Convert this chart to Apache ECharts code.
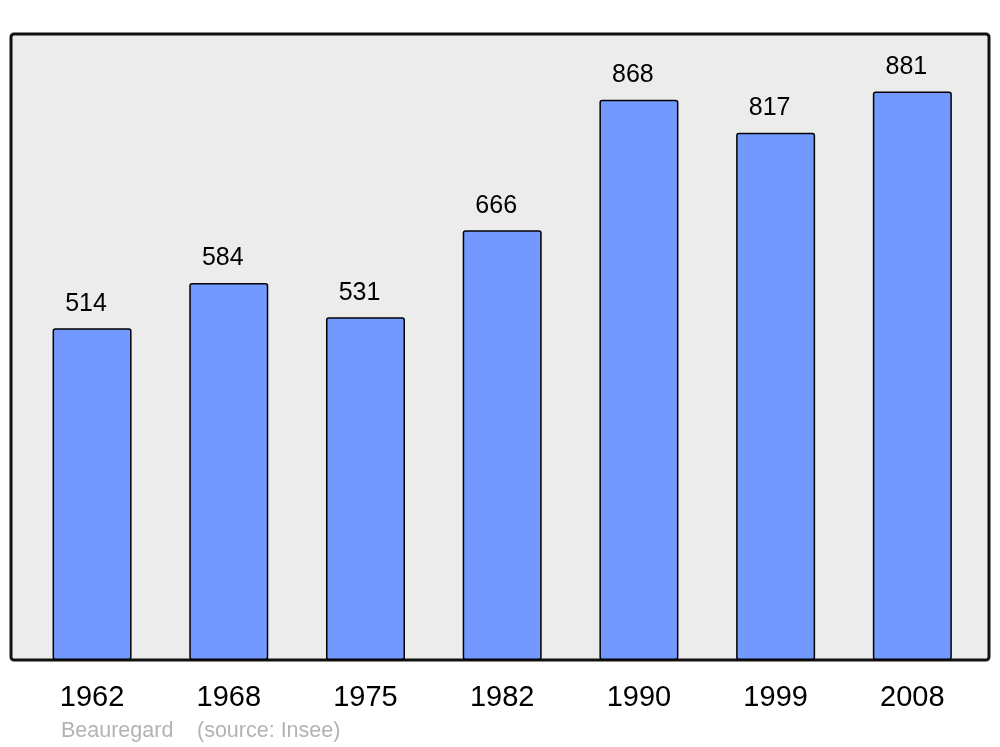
<!DOCTYPE html>
<html>
<head>
<meta charset="utf-8">
<script src="https://cdn.jsdelivr.net/npm/echarts@6/dist/echarts.min.js"></script>
<style>
html,body{margin:0;padding:0;background:#fff;}
#main{width:1000px;height:747px;}
</style>
</head>
<body>
<div id="main"></div>
<script>
var years = ['1962', '1968', '1975', '1982', '1990', '1999', '2008'];
var population = [514, 584, 531, 666, 868, 817, 881];
var placeName = 'Beauregard';
var sourceText = '(source: Insee)';

var chart = echarts.init(document.getElementById('main'), null, {renderer: 'canvas'});
var font = '"Liberation Sans", Arial, sans-serif';
chart.setOption({
  animation: false,
  backgroundColor: '#ffffff',
  graphic: [
    {type: 'rect', z: -10, shape: {x: 11, y: 34, width: 978, height: 626, r: 3},
     style: {fill: '#ececec', stroke: '#111111', lineWidth: 3}},
    {type: 'text', left: 61, top: 720, style: {text: placeName, fill: '#b3b3b3', font: '21.5px ' + font}},
    {type: 'text', left: 197, top: 720, style: {text: sourceText, fill: '#b3b3b3', font: '21.5px ' + font}}
  ],
  grid: {left: 23.7, width: 957, top: 34, height: 626, containLabel: false},
  xAxis: {
    type: 'category', data: years,
    axisLine: {show: false}, axisTick: {show: false},
    axisLabel: {color: '#000', fontSize: 29, fontFamily: font, margin: 23, lineHeight: 29}
  },
  yAxis: {type: 'value', min: 0, max: 970, show: false, splitLine: {show: false}},
  series: [{
    type: 'bar', data: population, barWidth: 79,
    itemStyle: {color: '#7399ff', borderColor: '#000', borderWidth: 1.5, borderRadius: 2},
    label: {show: true, position: 'top', distance: 12, offset: [-6, 0],
            color: '#000', fontSize: 25, fontFamily: font, lineHeight: 25}
  }]
});
</script>
</body>
</html>
